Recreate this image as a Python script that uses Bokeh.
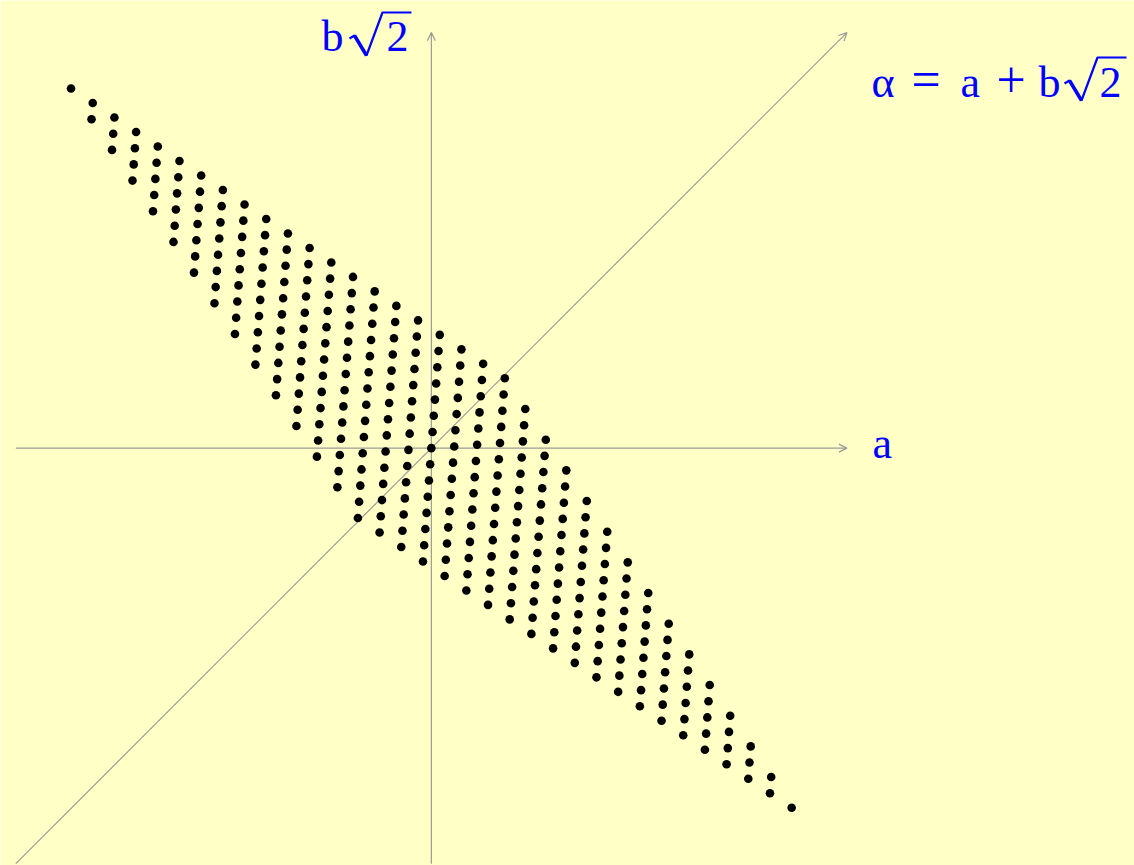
import math
from bokeh.plotting import figure
from bokeh.models import Range1d, Arrow, OpenHead
from bokeh.embed import file_html
from bokeh.resources import INLINE
from bokeh.core.properties import value

# Lattice columns (index along a) and the span of rows kept in each column
col_index = list(range(-17, 18))
row_lo = [24, 22, 20, 18, 16, 14, 12, 10, 8, 6, 4, 2, 0, -2, -4, -5, -6, -7,
          -8, -9, -10, -11, -12, -13, -14, -15, -16, -17, -18, -19, -20, -21,
          -22, -23, -24]
row_hi = [24, 23, 22, 21, 20, 19, 18, 17, 16, 15, 14, 13, 12, 11, 10, 9, 8, 7,
          6, 5, 4, 2, 0, -2, -4, -6, -8, -10, -12, -14, -16, -18, -20, -22, -24]

# Diagonal stretch / cross-diagonal squeeze of the drawing frame
STRETCH = 1.073
SQUEEZE = 0.925

W, H = 1134, 865
SCALE = 16.2              # screen pixels per unit
OX, OY = 430.85, 447.65   # screen position of the origin
AXIS_LEN = 25.65

BG = "#ffffc6"
GREY = "#9a9a9a"
BLUE = "#0000ff"
FONT = "Liberation Serif"
BASE_SHIFT = 0.325        # em offset between requested and drawn baseline


def frame(u, v):
    d = (u + v) / math.sqrt(2) * STRETCH
    e = (u - v) / math.sqrt(2) * SQUEEZE
    return (d + e) / math.sqrt(2), (d - e) / math.sqrt(2)


def px(xp, yp):
    return (xp - OX) / SCALE, (OY - yp) / SCALE


xs, ys = [], []
for m, lo, hi in zip(col_index, row_lo, row_hi):
    for n in range(lo, hi + 1):
        x, y = frame(math.sqrt(2) * m, n)
        xs.append(x)
        ys.append(y)

p = figure(width=W, height=H, output_backend="svg", toolbar_location=None,
           x_range=Range1d(-OX / SCALE, (W - OX) / SCALE),
           y_range=Range1d(-(H - OY) / SCALE, OY / SCALE),
           x_axis_location=None, y_axis_location=None, min_border=0)
p.background_fill_color = BG
p.border_fill_color = BG
p.outline_line_color = None
p.grid.visible = False

# axes a, b*sqrt(2) and the alpha diagonal, kept underneath the dots
for (x0, y0, x1, y1) in [(-AXIS_LEN, 0, AXIS_LEN, 0),
                         (0, -AXIS_LEN, 0, AXIS_LEN),
                         (-AXIS_LEN, -AXIS_LEN, AXIS_LEN, AXIS_LEN)]:
    p.add_layout(Arrow(end=OpenHead(size=8, line_color=GREY, line_width=1.2),
                       x_start=x0, y_start=y0, x_end=x1, y_end=y1,
                       line_color=GREY, line_width=1.2, level="underlay"))

p.scatter(xs, ys, size=8.6, fill_color="black", line_color=None)


def put(txt, xp, yp, size=44):
    x, y = px(xp, yp - BASE_SHIFT * size)
    p.text([x], [y], text=[txt], text_font=value(FONT),
           text_font_size=f"{size}px", text_color=BLUE,
           text_align="left", text_baseline="alphabetic")


def radical(x0, y0):
    # check mark + vinculum, x0/y0 = left end of the hook (screen px)
    pts = [(x0, y0), (x0 + 5, y0 - 3), (x0 + 17, y0 + 17), (x0 + 33, y0 - 26),
           (x0 + 62, y0 - 26)]
    cx, cy = zip(*[px(a, b) for a, b in pts])
    p.line(list(cx), list(cy), line_color=BLUE, line_width=2.2)
    hx, hy = zip(*[px(a, b) for a, b in pts[1:3]])
    p.line(list(hx), list(hy), line_color=BLUE, line_width=3.5)


# top label: b sqrt(2)
put("b", 321, 50)
radical(349, 38)
put("2", 386, 50)

# diagonal label: alpha = a + b sqrt(2)
put("\u03b1", 871, 96)
put("=", 911, 96, 52)
put("a", 960, 96)
put("+", 996, 96, 52)
put("b", 1038, 96)
radical(1064, 83)
put("2", 1099, 96)

# a-axis label
put("a", 872, 457)

open("out.html", "w").write(file_html(p, INLINE))
